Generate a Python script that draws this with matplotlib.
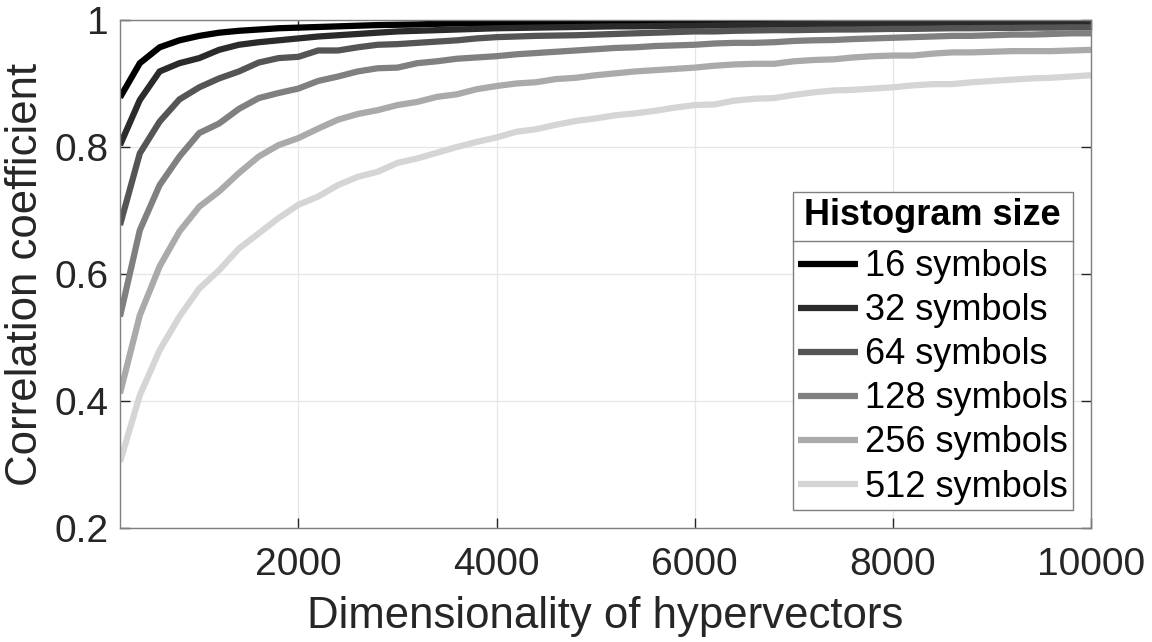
import matplotlib
matplotlib.use("Agg")
import matplotlib.pyplot as plt
from matplotlib.ticker import FuncFormatter
from matplotlib.lines import Line2D

dims = list(range(200, 10001, 200))

sym16 = [0.878, 0.932, 0.957, 0.968, 0.975, 0.980, 0.983, 0.985, 0.987, 0.988,
         0.989, 0.990, 0.991, 0.992, 0.9925, 0.993, 0.994, 0.9945, 0.995, 0.9955,
         0.996, 0.996, 0.9965, 0.997, 0.997, 0.9975, 0.9975, 0.998, 0.998, 0.998,
         0.998, 0.9983, 0.9985, 0.9985, 0.9987, 0.9988, 0.9988, 0.999, 0.999, 0.999,
         0.999, 0.999, 0.999, 0.999, 0.999, 0.999, 0.999, 0.999, 0.999, 0.999]
sym32 = [0.803, 0.874, 0.919, 0.932, 0.940, 0.953, 0.961, 0.965, 0.968, 0.971,
         0.974, 0.976, 0.978, 0.980, 0.982, 0.983, 0.984, 0.985, 0.986, 0.987,
         0.9875, 0.988, 0.9885, 0.989, 0.9895, 0.990, 0.990, 0.9905, 0.991, 0.991,
         0.9915, 0.992, 0.992, 0.9925, 0.993, 0.993, 0.9935, 0.9935, 0.994, 0.994,
         0.9943, 0.9945, 0.9948, 0.995, 0.9952, 0.9954, 0.9955, 0.9957, 0.9958, 0.996]
sym64 = [0.677, 0.790, 0.840, 0.875, 0.894, 0.908, 0.919, 0.933, 0.940, 0.942,
         0.952, 0.952, 0.957, 0.961, 0.962, 0.964, 0.966, 0.968, 0.971, 0.973,
         0.974, 0.975, 0.9755, 0.976, 0.977, 0.978, 0.979, 0.980, 0.981, 0.982,
         0.982, 0.983, 0.9835, 0.984, 0.984, 0.9845, 0.985, 0.985, 0.9855, 0.986,
         0.986, 0.9865, 0.987, 0.987, 0.9875, 0.9875, 0.988, 0.988, 0.9885, 0.9885]
sym128 = [0.533, 0.669, 0.740, 0.785, 0.822, 0.837, 0.860, 0.877, 0.885, 0.892,
          0.904, 0.911, 0.919, 0.924, 0.925, 0.932, 0.935, 0.939, 0.941, 0.943,
          0.946, 0.948, 0.950, 0.952, 0.954, 0.956, 0.957, 0.959, 0.960, 0.961,
          0.963, 0.964, 0.964, 0.965, 0.967, 0.968, 0.9685, 0.970, 0.971, 0.972,
          0.973, 0.974, 0.975, 0.975, 0.976, 0.977, 0.977, 0.978, 0.979, 0.979]
sym256 = [0.412, 0.535, 0.612, 0.667, 0.706, 0.730, 0.759, 0.785, 0.803, 0.814,
          0.829, 0.843, 0.852, 0.858, 0.866, 0.871, 0.879, 0.883, 0.891, 0.896,
          0.900, 0.902, 0.907, 0.909, 0.913, 0.916, 0.919, 0.921, 0.923, 0.925,
          0.928, 0.930, 0.931, 0.931, 0.935, 0.937, 0.938, 0.941, 0.943, 0.944,
          0.944, 0.947, 0.949, 0.949, 0.950, 0.951, 0.951, 0.951, 0.952, 0.953]
sym512 = [0.304, 0.409, 0.480, 0.533, 0.577, 0.606, 0.640, 0.664, 0.688, 0.709,
          0.722, 0.740, 0.753, 0.761, 0.775, 0.782, 0.791, 0.800, 0.808, 0.815,
          0.824, 0.828, 0.835, 0.841, 0.845, 0.850, 0.853, 0.857, 0.862, 0.866,
          0.867, 0.873, 0.876, 0.877, 0.882, 0.886, 0.889, 0.890, 0.892, 0.894,
          0.897, 0.899, 0.899, 0.902, 0.904, 0.906, 0.908, 0.909, 0.911, 0.913]

series = [sym16, sym32, sym64, sym128, sym256, sym512]
labels = ["16 symbols", "32 symbols", "64 symbols", "128 symbols", "256 symbols", "512 symbols"]
grays = ["#000000", "#2b2b2b", "#555555", "#808080", "#aaaaaa", "#d5d5d5"]

xticks = [2000, 4000, 6000, 8000, 10000]
yticks = [0.2, 0.4, 0.6, 0.8, 1.0]

plt.rcParams['font.family'] = ['Liberation Sans', 'DejaVu Sans']
txt = "#262626"

fig = plt.figure(figsize=(11.52, 6.42), dpi=100)
ax = fig.add_axes([120/1152, 1-528/642, (1091-120)/1152, (528-20)/642])

for ys, lab, c in zip(series, labels, grays):
    ax.plot(dims, ys, color=c, lw=4.5, label=lab, solid_capstyle='butt', solid_joinstyle='miter')

ax.set_xlim(200, 10000)
ax.set_ylim(0.2, 1.0)
ax.set_xticks(xticks)
ax.set_yticks(yticks)
ax.yaxis.set_major_formatter(FuncFormatter(lambda v, p: "%g" % v))
ax.grid(True, color="#e6e6e6", lw=0.9)
ax.set_axisbelow(True)
for s in ax.spines.values():
    s.set_color("#7f7f7f")
    s.set_linewidth(1.0)
ax.tick_params(direction='in', length=7, width=1.0, color="#262626",
               labelsize=28, labelcolor=txt, top=True, right=True)
ax.tick_params(axis='x', pad=14)
ax.tick_params(axis='y', pad=8)
ax.set_xlabel("Dimensionality of hypervectors", fontsize=31.5, color=txt, labelpad=9)
ax.set_ylabel("Correlation coefficient", fontsize=31.5, color=txt, labelpad=6)

leg = ax.legend(loc='lower right', fontsize=26, title="Histogram size",
                title_fontproperties={'size': 26, 'weight': 'bold'},
                fancybox=False, framealpha=1, edgecolor="#7f7f7f",
                handlelength=1.66, handletextpad=0.19, labelspacing=0.25,
                borderaxespad=0.5, borderpad=0.15)
leg.get_frame().set_linewidth(1.0)
leg._legend_box.sep = 12
leg.get_title().set_color("#000000")
for t in leg.get_texts():
    t.set_color("#000000")

fig.canvas.draw()
r = fig.canvas.get_renderer()
fb = leg.get_frame().get_window_extent(r)
tb = leg.get_title().get_window_extent(r)
eb = leg.get_texts()[0].get_window_extent(r)
yline = (tb.y0 + eb.y1) / 2
line = Line2D([fb.x0, fb.x1], [yline, yline], transform=None, color="#7f7f7f", lw=1.0)
fig.add_artist(line)

fig.savefig("out.png", dpi=100)
